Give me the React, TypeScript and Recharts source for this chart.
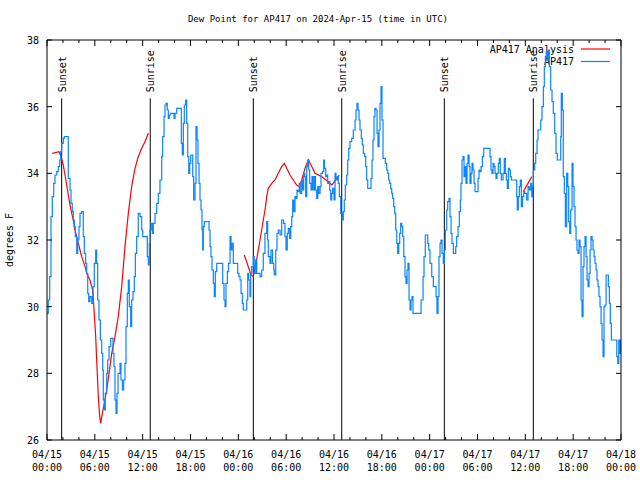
import React from 'react';
import { LineChart, Line, XAxis, YAxis, ReferenceLine } from 'recharts';

// ---------- data (hours since 04/15 00:00 UTC, degrees F) ----------
const AP417_HOURS = [
  0.00, 0.16, 0.34, 0.50, 0.66, 0.84, 1.00, 1.22, 1.42, 1.59, 1.72, 1.84, 2.04, 2.17, 2.67, 2.89, 3.01, 3.17, 3.30, 3.42,
  3.55, 3.73, 3.85, 4.01, 4.14, 4.35, 4.55, 4.68, 4.85, 4.98, 5.11, 5.23, 5.39, 5.61, 5.77, 5.93, 6.11, 6.23, 6.36, 6.52,
  6.69, 6.86, 6.99, 7.06, 7.19, 7.31, 7.49, 7.61, 7.78, 7.99, 8.28, 8.40, 8.53, 8.66, 8.78, 8.91, 9.16, 9.28, 9.45, 9.62,
  9.78, 9.91, 10.07, 10.20, 10.32, 10.50, 10.62, 10.79, 10.95, 11.08, 11.25, 11.45, 11.67, 11.88, 12.00, 12.58, 12.71, 12.83, 12.92, 13.05,
  13.21, 13.33, 13.55, 13.76, 13.96, 14.17, 14.39, 14.51, 14.68, 14.80, 14.93, 15.09, 15.22, 15.34, 15.52, 15.93, 16.06, 16.27, 16.85, 16.97,
  17.10, 17.22, 17.40, 17.52, 17.65, 17.78, 17.90, 18.03, 18.28, 18.40, 18.57, 18.69, 18.82, 18.94, 19.07, 19.19, 19.32, 19.44, 19.53, 19.61,
  19.73, 20.32, 20.45, 20.57, 20.70, 20.86, 20.99, 21.11, 21.29, 22.04, 22.20, 22.33, 22.45, 22.62, 22.77, 22.96, 23.08, 23.21, 23.37, 23.92,
  24.08, 24.21, 24.34, 24.50, 24.62, 25.05, 25.18, 25.30, 25.46, 25.55, 25.68, 25.88, 26.00, 26.18, 26.31, 26.72, 26.93, 27.13, 27.34, 27.56,
  27.68, 27.76, 27.97, 28.10, 28.29, 28.44, 28.51, 28.69, 28.85, 29.01, 29.23, 29.44, 29.67, 29.85, 29.98, 30.14, 30.27, 30.44, 30.57, 30.70,
  30.82, 30.95, 31.11, 31.23, 31.36, 31.49, 31.65, 31.77, 31.95, 32.08, 32.20, 32.33, 32.45, 32.58, 32.70, 32.83, 32.95, 33.12, 33.24, 33.37,
  33.53, 33.68, 33.83, 33.96, 34.08, 34.25, 34.37, 34.56, 34.71, 34.81, 34.96, 35.09, 35.21, 35.34, 35.46, 35.59, 35.71, 35.84, 36.00, 36.13,
  36.25, 36.42, 36.54, 36.67, 36.84, 37.01, 37.17, 37.29, 37.42, 37.59, 37.72, 37.85, 38.01, 38.22, 38.42, 38.64, 38.76, 38.89, 39.01, 39.14,
  39.26, 39.43, 39.55, 39.68, 39.85, 39.98, 40.10, 40.23, 40.64, 40.77, 40.89, 41.02, 41.14, 41.27, 41.40, 41.52, 41.65, 41.77, 41.90, 42.02,
  42.15, 42.44, 42.61, 42.74, 42.86, 42.99, 43.11, 43.24, 43.36, 43.49, 43.62, 43.74, 43.87, 43.99, 44.12, 44.24, 44.37, 44.50, 44.62, 44.75,
  44.91, 45.03, 45.16, 45.28, 45.41, 45.54, 45.66, 45.79, 45.91, 46.92, 47.17, 47.29, 47.45, 47.76, 47.88, 48.04, 48.26, 48.46, 48.80, 48.92,
  49.05, 49.17, 49.30, 49.42, 49.55, 49.71, 49.84, 49.96, 50.14, 50.26, 50.43, 50.55, 50.68, 50.80, 50.97, 51.27, 51.39, 51.56, 51.72, 51.85,
  51.93, 52.06, 52.18, 52.31, 52.44, 52.56, 52.69, 52.81, 52.94, 53.06, 53.19, 53.31, 53.44, 53.57, 53.69, 54.07, 54.19, 54.32, 54.44, 54.61,
  54.78, 55.57, 55.69, 55.82, 55.95, 56.07, 56.20, 56.32, 56.45, 56.61, 56.74, 56.86, 56.99, 57.20, 57.36, 57.49, 57.62, 57.74, 57.87, 57.99,
  58.12, 58.24, 58.92, 58.99, 59.12, 59.25, 59.37, 59.50, 59.65, 59.80, 59.92, 60.17, 60.34, 60.50, 60.68, 60.80, 60.93, 61.00, 61.18, 61.30,
  61.47, 61.59, 61.93, 62.09, 62.26, 62.38, 62.51, 62.63, 62.76, 62.88, 63.01, 63.18, 63.35, 63.51, 63.69, 63.85, 64.01, 64.44, 64.51, 64.64,
  64.76, 64.89, 65.02, 65.19, 65.32, 65.44, 65.57, 65.69, 65.86, 65.98, 66.11, 66.23, 66.36, 66.48, 66.61, 66.74, 66.86, 66.99, 67.11, 67.24,
  67.36, 67.49, 67.62, 67.74, 67.87, 67.99, 68.12, 68.24, 68.37, 68.49, 68.62, 68.74, 68.87, 68.99, 69.12, 69.24, 69.37, 69.50, 69.62, 69.75,
  69.87, 70.00, 70.13, 70.41, 70.54, 70.66, 70.79, 71.47, 71.60, 71.72, 71.85, 71.97,
];
const AP417_DEWPOINT = [
  29.8, 30.2, 30.9, 32.7, 33.3, 33.7, 33.95, 34.05, 34.2, 34.4, 34.65, 34.9, 35.05, 35.1, 33.85, 33.5, 33.1, 32.85, 32.6, 32.4,
  32.1, 31.6, 32.0, 32.4, 32.8, 32.85, 32.1, 31.6, 31.3, 31.0, 30.4, 30.15, 30.3, 30.1, 30.6, 31.3, 31.7, 31.3, 30.2, 29.6,
  29.0, 28.6, 28.1, 27.2, 26.9, 27.4, 28.0, 28.4, 28.8, 29.05, 28.6, 28.2, 27.2, 26.8, 27.4, 28.0, 28.3, 27.8, 27.5, 27.8,
  28.3, 29.4, 30.4, 30.8, 30.0, 29.4, 30.2, 30.45, 30.9, 31.6, 32.1, 32.8, 32.7, 32.3, 32.1, 31.5, 31.25, 31.9, 32.3, 32.5,
  32.2, 32.5, 32.8, 33.1, 33.4, 33.8, 34.5, 35.1, 35.7, 36.05, 36.1, 35.9, 35.65, 35.75, 35.8, 35.65, 35.8, 35.95, 34.9, 34.55,
  35.5, 36.05, 36.2, 35.5, 34.5, 34.0, 34.3, 34.55, 33.9, 33.2, 33.7, 35.4, 35.0, 34.3, 33.7, 33.2, 32.9, 32.3, 31.7, 32.4,
  32.55, 32.3, 31.8, 31.5, 31.1, 30.7, 30.3, 31.05, 31.3, 30.7, 30.2, 30.0, 30.7, 31.05, 31.3, 32.1, 31.7, 31.9, 31.3, 31.0,
  30.9, 30.8, 30.4, 30.1, 29.9, 30.2, 31.0, 30.8, 30.3, 31.0, 31.2, 31.5, 31.0, 31.4, 31.0, 30.9, 31.1, 31.6, 32.2, 32.55,
  32.0, 31.5, 31.3, 31.7, 31.3, 31.1, 30.95, 31.7, 32.2, 32.3, 32.15, 32.6, 32.5, 32.1, 31.7, 32.2, 32.35, 32.05, 32.4, 32.7,
  33.2, 32.85, 33.3, 33.25, 33.5, 33.45, 33.7, 33.4, 33.8, 33.5, 34.0, 33.9, 33.3, 34.2, 34.4, 34.1, 33.7, 33.5, 33.9, 33.5,
  33.9, 33.5, 33.25, 33.6, 33.4, 33.6, 34.0, 34.05, 34.4, 34.15, 33.9, 33.95, 33.7, 33.75, 33.5, 33.2, 33.4, 33.55, 33.2, 34.0,
  33.8, 33.9, 33.7, 33.3, 32.8, 32.6, 32.85, 33.2, 33.65, 33.95, 34.4, 34.75, 34.95, 35.05, 35.3, 35.6, 35.9, 36.1, 35.9, 35.6,
  35.3, 35.05, 34.85, 34.6, 34.5, 34.2, 33.8, 33.55, 33.85, 34.4, 35.0, 35.7, 35.95, 35.9, 35.2, 34.8, 35.3, 36.1, 36.6, 35.6,
  34.45, 34.3, 34.1, 34.0, 33.8, 33.7, 33.55, 33.4, 33.25, 33.0, 32.8, 32.3, 31.9, 31.6, 31.9, 32.2, 32.5, 32.4, 32.1, 31.5,
  30.9, 30.7, 31.1, 31.3, 30.2, 29.9, 30.2, 30.3, 29.8, 30.2, 30.9, 31.5, 32.15, 31.9, 31.7, 31.3, 30.9, 30.6, 30.3, 29.8,
  30.3, 31.5, 31.9, 32.0, 31.6, 31.3, 31.7, 32.3, 32.9, 33.15, 33.25, 32.7, 32.2, 31.9, 31.6, 31.8, 32.1, 32.4, 32.85, 33.2,
  33.7, 34.4, 34.5, 33.9, 34.2, 33.7, 34.3, 34.55, 34.2, 33.7, 34.0, 34.3, 34.1, 33.7, 33.45, 33.85, 34.1, 34.05, 34.2, 34.5,
  34.75, 34.5, 34.1, 34.0, 34.3, 34.2, 34.0, 33.85, 34.0, 34.3, 34.45, 34.0, 33.8, 34.0, 34.45, 34.0, 33.8, 33.55, 34.15, 34.1,
  33.9, 33.8, 33.3, 32.9, 33.3, 33.6, 33.8, 33.0, 33.3, 33.45, 33.4, 33.2, 33.6, 33.5, 33.7, 33.3, 33.6, 34.1, 34.3, 34.6,
  35.0, 35.3, 35.6, 36.0, 36.6, 37.2, 37.5, 37.65, 37.4, 37.7, 37.2, 36.5, 36.15, 35.8, 35.2, 34.6, 34.4, 35.1, 36.4, 35.9,
  33.9, 33.4, 32.4, 34.0, 33.6, 32.55, 32.2, 32.9, 34.3, 33.6, 33.0, 32.4, 32.0, 31.7, 31.6, 32.0, 31.8, 30.2, 29.7, 31.2,
  31.8, 32.1, 31.5, 30.8, 30.6, 31.0, 31.7, 32.1, 32.0, 31.7, 31.5, 31.3, 31.1, 30.8, 30.6, 30.3, 30.0, 29.5, 29.0, 28.5,
  30.0, 30.05, 30.95, 30.6, 30.1, 29.5, 29.0, 28.5, 28.3, 29.0, 28.6, 29.0,
];

const ANALYSIS_HOURS = [
  0.66, 1.51, 1.76, 2.04, 2.26, 2.47, 2.67, 2.89, 3.10, 3.30, 3.51, 3.93, 4.35, 4.77, 4.98, 5.39, 5.73, 5.90, 6.11, 6.23,
  6.44, 6.61, 6.74, 6.94, 7.19, 7.49, 7.78, 8.12, 8.53, 8.94, 9.37, 9.78, 10.20, 10.62, 11.04, 11.45, 11.88, 12.29, 12.71,
  18.0,
  24.75, 25.59, 25.88, 26.18, 26.43, 26.72, 27.13, 27.35, 27.56, 27.76, 28.19, 28.60, 29.01, 29.44, 29.77, 30.07, 30.48, 30.90, 31.32, 31.65,
  31.95, 32.36, 32.78, 33.12, 33.62, 34.46, 35.29, 35.71, 35.91, 36.34, 36.67,
  50.0,
  59.75, 60.80,
];
const ANALYSIS_DEWPOINT = [
  34.6, 34.65, 34.5, 34.25, 33.95, 33.65, 33.35, 33.05, 32.8, 32.6, 32.3, 31.9, 31.5, 31.2, 31.0, 30.8, 30.5, 29.9, 29.1, 28.4,
  27.3, 26.7, 26.5, 26.8, 27.1, 27.5, 28.0, 28.6, 29.1, 29.7, 30.6, 31.8, 32.8, 33.6, 34.15, 34.5, 34.75, 34.95, 35.2,
  null,
  31.55, 30.95, 30.9, 31.25, 31.6, 32.0, 32.6, 32.9, 33.3, 33.55, 33.7, 33.8, 34.0, 34.2, 34.3, 34.15, 33.95, 33.8, 33.65, 33.6,
  33.8, 34.15, 34.4, 34.25, 34.0, 33.9, 33.75, 33.65, 33.7, 33.85, 33.95,
  null,
  33.45, 33.9,
];

const EVENT_HOURS = [1.84, 12.95, 25.88, 36.97, 49.84, 61.0];
const EVENT_LABELS = ['Sunset', 'Sunrise', 'Sunset', 'Sunrise', 'Sunset', 'Sunrise'];
const EVENT_TOP = 36.25;

const X_TICKS = [0, 2, 4, 6, 8, 10, 12, 14, 16, 18, 20, 22, 24, 26, 28, 30, 32, 34, 36, 38, 40, 42, 44, 46, 48, 50, 52, 54, 56, 58, 60, 62, 64, 66, 68, 70, 72];
const X_MAJOR = [0, 6, 12, 18, 24, 30, 36, 42, 48, 54, 60, 66, 72];
const X_DATE_LABELS = ['04/15', '04/15', '04/15', '04/15', '04/16', '04/16', '04/16', '04/16', '04/17', '04/17', '04/17', '04/17', '04/18'];
const X_TIME_LABELS = ['00:00', '06:00', '12:00', '18:00', '00:00', '06:00', '12:00', '18:00', '00:00', '06:00', '12:00', '18:00', '00:00'];
const Y_TICKS = [26, 28, 30, 32, 34, 36, 38];

const TITLE = 'Dew Point for AP417 on 2024-Apr-15 (time in UTC)';
const Y_LABEL = 'degrees F';
const SERIES_NAMES = ['AP417 Analysis', 'AP417'];

const BLUE = '#0a84ff';
const RED = '#ff0000';
const FONT = '"DejaVu Sans Mono", "Liberation Mono", monospace';

const ap417Data = AP417_HOURS.map((h, i) => ({ h, v: AP417_DEWPOINT[i] }));
const analysisData = ANALYSIS_HOURS.map((h, i) => ({ h, v: ANALYSIS_DEWPOINT[i] }));

function BottomTick(props: any) {
  const { x, y, payload } = props;
  const idx = X_MAJOR.indexOf(payload.value);
  const major = idx >= 0;
  return (
    <g>
      <line x1={x} x2={x} y1={y} y2={y - (major ? 6 : 3)} stroke="#000" />
      {major && (
        <text x={x} y={y + 18} textAnchor="middle" fontSize={10} fontFamily={FONT} fill="#000">
          {X_DATE_LABELS[idx]}
        </text>
      )}
      {major && (
        <text x={x} y={y + 31} textAnchor="middle" fontSize={10} fontFamily={FONT} fill="#000">
          {X_TIME_LABELS[idx]}
        </text>
      )}
    </g>
  );
}

function TopTick(props: any) {
  const { x, y, payload } = props;
  const major = X_MAJOR.indexOf(payload.value) >= 0;
  return <line x1={x} x2={x} y1={y} y2={y + (major ? 6 : 3)} stroke="#000" />;
}

function LeftTick(props: any) {
  const { x, y, payload } = props;
  return (
    <g>
      <line x1={x} x2={x + 5} y1={y} y2={y} stroke="#000" />
      <text x={x - 8} y={y + 4} textAnchor="end" fontSize={10} fontFamily={FONT} fill="#000">
        {payload.value}
      </text>
    </g>
  );
}

function RightTick(props: any) {
  const { x, y } = props;
  return <line x1={x} x2={x - 5} y1={y} y2={y} stroke="#000" />;
}

function EventLabel({ viewBox, text }: any) {
  if (!viewBox) return null;
  const x = viewBox.x + 4;
  const y = viewBox.y - 6;
  return (
    <text transform={`translate(${x},${y}) rotate(-90)`} textAnchor="start" fontSize={10} fontFamily={FONT} fill="#000">
      {text}
    </text>
  );
}

export default function App() {
  return (
    <div style={{ position: 'absolute', left: 0, top: 0, width: 640, height: 480, background: '#fff' }}>
      <svg width={640} height={480} style={{ position: 'absolute', left: 0, top: 0 }}>
        <text x={318} y={22} textAnchor="middle" fontSize={9} fontFamily={FONT} fill="#000">
          {TITLE}
        </text>
        <text transform="translate(13,240) rotate(-90)" textAnchor="middle" fontSize={10} fontFamily={FONT} fill="#000">
          {Y_LABEL}
        </text>
        <text x={574} y={53} textAnchor="end" fontSize={10} fontFamily={FONT} fill="#000">
          {SERIES_NAMES[0]}
        </text>
        <line x1={581} x2={610} y1={49} y2={49} stroke={RED} strokeWidth={1.2} />
        <text x={574} y={65} textAnchor="end" fontSize={10} fontFamily={FONT} fill="#000">
          {SERIES_NAMES[1]}
        </text>
        <line x1={581} x2={610} y1={61.5} y2={61.5} stroke={BLUE} strokeWidth={1.2} />
      </svg>
      <div style={{ position: 'absolute', left: 0, top: 0 }}>
        <LineChart width={640} height={480} margin={{ top: 0, right: 0, bottom: 0, left: 0 }}>
          <XAxis
            xAxisId={0}
            dataKey="h"
            type="number"
            domain={[0, 72]}
            ticks={X_TICKS}
            interval={0}
            height={40}
            tickSize={0}
            tickMargin={0}
            tick={<BottomTick />}
            axisLine={{ stroke: '#000' }}
            allowDataOverflow
          />
          <XAxis
            xAxisId="top"
            orientation="top"
            dataKey="h"
            type="number"
            domain={[0, 72]}
            ticks={X_TICKS}
            interval={0}
            height={40}
            tickSize={0}
            tickMargin={0}
            tick={<TopTick />}
            axisLine={{ stroke: '#000' }}
            allowDataOverflow
          />
          <YAxis
            yAxisId={0}
            type="number"
            domain={[26, 38]}
            ticks={Y_TICKS}
            interval={0}
            width={47}
            tickSize={0}
            tickMargin={0}
            tick={<LeftTick />}
            axisLine={{ stroke: '#000' }}
            allowDataOverflow
          />
          <YAxis
            yAxisId="right"
            orientation="right"
            type="number"
            domain={[26, 38]}
            ticks={Y_TICKS}
            interval={0}
            width={19}
            tickSize={0}
            tickMargin={0}
            tick={<RightTick />}
            axisLine={{ stroke: '#000' }}
            allowDataOverflow
          />
          {EVENT_HOURS.map((h, i) => (
            <ReferenceLine
              key={`ev${i}`}
              xAxisId={0}
              yAxisId={0}
              segment={[{ x: h, y: EVENT_TOP }, { x: h, y: 26 }]}
              stroke="#000"
              strokeWidth={1}
              ifOverflow="visible"
              label={(p: any) => <EventLabel viewBox={p.viewBox} text={EVENT_LABELS[i]} />}
            />
          ))}
          <Line
            xAxisId={0}
            yAxisId={0}
            data={analysisData}
            dataKey="v"
            type="linear"
            stroke={RED}
            strokeWidth={1.2}
            dot={false}
            connectNulls={false}
            isAnimationActive={false}
          />
          <Line
            xAxisId={0}
            yAxisId={0}
            data={ap417Data}
            dataKey="v"
            type="stepAfter"
            stroke={BLUE}
            strokeWidth={1.2}
            dot={false}
            isAnimationActive={false}
          />
          <Line
            xAxisId="top"
            yAxisId="right"
            data={ap417Data}
            dataKey="v"
            stroke="none"
            dot={false}
            legendType="none"
            isAnimationActive={false}
          />
        </LineChart>
      </div>
    </div>
  );
}
